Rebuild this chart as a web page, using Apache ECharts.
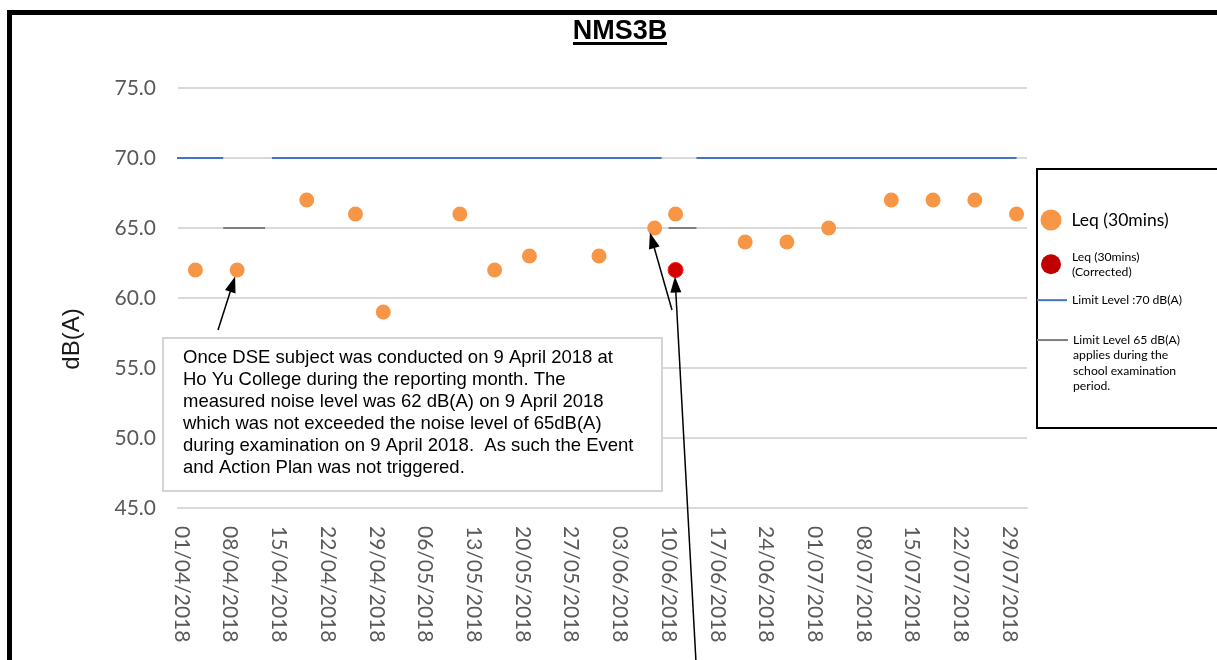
<!DOCTYPE html>
<html>
<head>
<meta charset="utf-8">
<title>NMS3B</title>
<script src="https://cdn.jsdelivr.net/npm/echarts@6/dist/echarts.min.js"></script>
<style>
  html, body { margin: 0; padding: 0; background: #fff; }
  #chart { width: 1217px; height: 660px; }
</style>
</head>
<body>
<div id="chart"></div>
<script>
// measured Leq (30mins)
var leqDates = ['2018-04-03', '2018-04-09', '2018-04-19', '2018-04-26', '2018-04-30', '2018-05-11',
                '2018-05-16', '2018-05-21', '2018-05-31', '2018-06-08', '2018-06-11', '2018-06-21',
                '2018-06-27', '2018-07-03', '2018-07-12', '2018-07-18', '2018-07-24', '2018-07-30'];
var leqValues = [62, 62, 67, 66, 59, 66, 62, 63, 63, 65, 66, 64, 64, 65, 67, 67, 67, 66];

// corrected reading
var correctedDates = ['2018-06-11'];
var correctedValues = [62];

// limit lines, null = gap during the examination periods
var limit70Dates = ['2018-03-28', '2018-04-07', '2018-04-08', '2018-04-14', '2018-06-09', '2018-06-10', '2018-06-14', '2018-07-30'];
var limit70Values = [70, 70, null, 70, 70, null, 70, 70];
var limit65Dates = ['2018-04-07', '2018-04-13', '2018-04-14', '2018-06-10', '2018-06-14'];
var limit65Values = [65, 65, null, 65, 65];

// x axis labels, every 7 days
var tickDates = ['2018-04-01', '2018-04-08', '2018-04-15', '2018-04-22', '2018-04-29', '2018-05-06',
                 '2018-05-13', '2018-05-20', '2018-05-27', '2018-06-03', '2018-06-10', '2018-06-17',
                 '2018-06-24', '2018-07-01', '2018-07-08', '2018-07-15', '2018-07-22', '2018-07-29'];
var axisStart = '2018-04-01';
var axisEnd = '2018-08-01';

// excel date axis puts a day's point in the middle of its slot
function midDay(d) { return +new Date(d + 'T12:00:00'); }
function pairs(dates, values) {
  return dates.map(function (d, i) {
    return [midDay(d), values[i] == null ? '-' : values[i]];
  });
}
function pad(n) { return n < 10 ? '0' + n : '' + n; }
function fmtDate(v) {
  var d = new Date(v);
  return pad(d.getDate()) + '/' + pad(d.getMonth() + 1) + '/' + d.getFullYear();
}

var labelFont = 'Lato';
var smallText = { fontFamily: labelFont, fontSize: 12.2, lineHeight: 15.3, color: '#000' };
var myChart = echarts.init(document.getElementById('chart'));

var option = {
  animation: false,
  grid: { left: 178, right: 190, top: 88, bottom: 152 },
  xAxis: {
    type: 'value',
    min: +new Date(axisStart + 'T00:00:00'),
    max: +new Date(axisEnd + 'T00:00:00'),
    axisLine: { show: true, lineStyle: { color: '#d9d9d9', width: 2 } },
    axisTick: { show: false },
    splitLine: { show: false },
    axisLabel: {
      customValues: tickDates.map(midDay),
      formatter: fmtDate,
      rotate: -90,
      margin: 18,
      color: '#595959',
      fontFamily: labelFont,
      fontSize: 21,
      hideOverlap: false
    }
  },
  yAxis: {
    type: 'value',
    min: 45,
    max: 75,
    interval: 5,
    axisLine: { show: false },
    axisTick: { show: false },
    splitLine: { lineStyle: { color: '#d9d9d9', width: 2 } },
    axisLabel: {
      formatter: function (v) { return v.toFixed(1); },
      color: '#595959',
      fontFamily: labelFont,
      fontSize: 21,
      margin: 22
    }
  },
  legend: [
    {
      data: [{ name: 'Leq (30mins)', icon: 'circle' }],
      left: 1040.5, top: 209.5, padding: 0,
      itemWidth: 31, itemHeight: 21, selectedMode: false,
      textStyle: { fontFamily: labelFont, fontSize: 17.5, color: '#000' }
    },
    {
      data: [{ name: 'Leq (30mins) (Corrected)', icon: 'circle' }],
      left: 1041, top: 249, padding: 0,
      itemWidth: 32, itemHeight: 20, selectedMode: false,
      itemStyle: { color: '#C00000', borderWidth: 0 },
      formatter: function () { return 'Leq (30mins)\n(Corrected)'; },
      textStyle: smallText
    },
    {
      data: [{ name: 'Limit Level :70 dB(A)', icon: 'rect' }],
      left: 1037, top: 292.5, padding: 0,
      itemWidth: 30, itemHeight: 2, selectedMode: false,
      textStyle: smallText
    },
    {
      data: [{ name: 'Limit Level 65 dB(A) applies during the school examination period.', icon: 'rect' }],
      left: 1037, top: 286.5, padding: 0,
      itemWidth: 31, itemHeight: 2, selectedMode: false,
      // blank lines above keep the icon level with the first text line
      formatter: function () { return '\u00a0\n\u00a0\n\u00a0\nLimit Level 65 dB(A)\napplies during the\nschool examination\nperiod.'; },
      textStyle: smallText
    }
  ],
  graphic: [
    // outer frame of the report figure
    { type: 'rect', shape: { x: 7, y: 10, width: 1215, height: 5 }, style: { fill: '#000' } },
    { type: 'rect', shape: { x: 7, y: 10, width: 5, height: 655 }, style: { fill: '#000' } },
    // title
    {
      type: 'text', x: 620, y: 32,
      style: { text: 'NMS3B', font: 'bold 27px "Liberation Sans", Arial', fill: '#000', align: 'center', verticalAlign: 'middle' }
    },
    { type: 'rect', shape: { x: 573, y: 42, width: 94, height: 3 }, style: { fill: '#000' } },
    // y axis title
    {
      type: 'text', x: 72, y: 339, rotation: Math.PI / 2,
      style: { text: 'dB(A)', font: '24px "Liberation Sans", Arial', fill: '#1a1a1a', align: 'center', verticalAlign: 'middle' }
    },
    // note box
    {
      type: 'rect', z: 10,
      shape: { x: 163, y: 338, width: 499, height: 153 },
      style: { fill: '#fff', stroke: '#d4d4d4', lineWidth: 2 }
    },
    {
      type: 'text', z: 11, x: 183, y: 347,
      style: {
        text: 'Once DSE subject was conducted on 9 April 2018 at\nHo Yu College during the reporting month. The\nmeasured noise level was 62 dB(A) on 9 April 2018\nwhich was not exceeded the noise level of 65dB(A)\nduring examination on 9 April 2018.  As such the Event\nand Action Plan was not triggered.',
        font: '18.5px "Liberation Sans", Arial', lineHeight: 22, fill: '#000', align: 'left', verticalAlign: 'top'
      }
    },
    // legend frame
    {
      type: 'rect', z: -1,
      shape: { x: 1037, y: 169, width: 200, height: 259 },
      style: { fill: '#fff', stroke: '#000', lineWidth: 2 }
    }
  ],
  series: [
    {
      name: 'Limit Level :70 dB(A)',
      type: 'line',
      data: pairs(limit70Dates, limit70Values),
      color: '#4472C4',
      symbol: 'none',
      connectNulls: false,
      lineStyle: { color: '#4472C4', width: 2 },
      z: 2
    },
    {
      name: 'Limit Level 65 dB(A) applies during the school examination period.',
      type: 'line',
      data: pairs(limit65Dates, limit65Values),
      color: '#7f7f7f',
      symbol: 'none',
      connectNulls: false,
      lineStyle: { color: '#7f7f7f', width: 2 },
      z: 2
    },
    {
      name: 'Leq (30mins)',
      type: 'scatter',
      data: pairs(leqDates, leqValues),
      symbolSize: 15,
      color: '#F79646',
      itemStyle: { color: '#F79646', opacity: 1 },
      clip: false,
      z: 3,
      // arrows from the note box to the points it talks about
      markLine: {
        silent: true,
        symbol: ['none', 'triangle'],
        symbolSize: [11, 16],
        label: { show: false },
        lineStyle: { color: '#000', width: 1.5, type: 'solid' },
        emphasis: { disabled: true },
        data: [
          [{ x: 218, y: 330 }, { x: 232.7, y: 284.1 }],
          [{ x: 672, y: 310 }, { x: 652.1, y: 240.2 }],
          [{ x: 696, y: 662 }, { x: 675.4, y: 284.5 }]
        ]
      }
    },
    {
      name: 'Leq (30mins) (Corrected)',
      type: 'scatter',
      data: pairs(correctedDates, correctedValues),
      symbolSize: 15,
      color: '#C00000',
      itemStyle: { color: '#D40000', borderColor: '#ff1a1a', borderWidth: 1, opacity: 1 },
      z: 4
    }
  ]
};

myChart.setOption(option);
</script>
</body>
</html>
